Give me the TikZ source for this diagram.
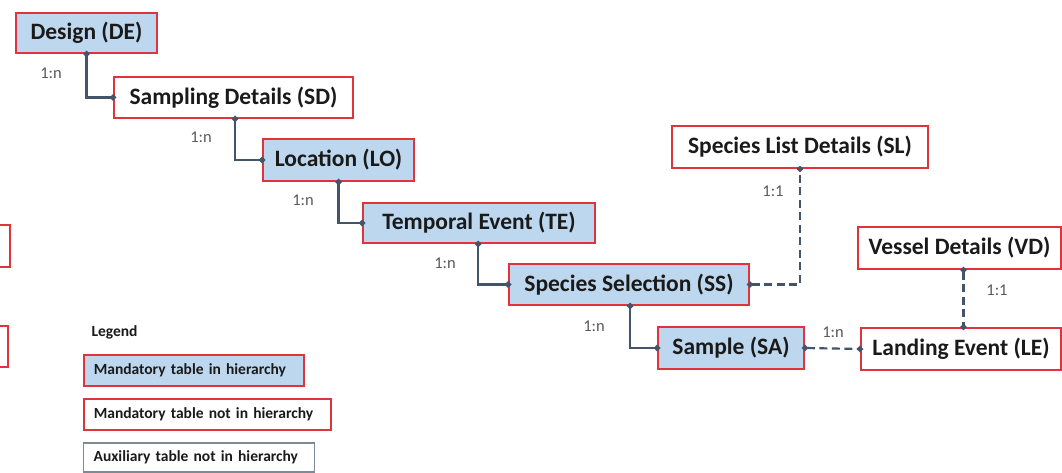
\documentclass[tikz,border=0pt]{standalone}
\usepackage{fontspec}
\setmainfont{Carlito}
\usetikzlibrary{arrows.meta}

\definecolor{boxred}{HTML}{E0333C}
\definecolor{boxblue}{HTML}{BDD7EE}
\definecolor{linkcol}{HTML}{44546A}
\definecolor{labelcol}{HTML}{595959}
\definecolor{auxgray}{HTML}{7F8A96}
\definecolor{txt}{HTML}{1A1A1A}

\tikzset{
  tbl/.style={draw=boxred, line width=2pt, inner sep=0pt, text=txt,
    font=\fontsize{23.5}{26}\selectfont\bfseries},
  hier/.style={tbl, fill=boxblue},
  plain/.style={tbl, fill=white},
  legbox/.style={draw=boxred, line width=1.6pt, inner xsep=10pt, inner ysep=0pt,
    anchor=west, align=left, text=txt, minimum height=31pt,
    font=\fontsize{15.5}{18}\selectfont\bfseries},
  card/.style={text=labelcol, font=\fontsize{16.5}{19}\selectfont},
  link/.style={draw=linkcol, line width=2.4pt,
    {Circle[length=6pt]}-{Circle[length=6pt]},
    shorten <=-3pt, shorten >=-3pt},
  optlink/.style={link, line width=2.2pt, dash pattern=on 8pt off 4.5pt},
}

\begin{document}
\begin{tikzpicture}[x=1pt, y=-1pt]
  \clip (0,0) rectangle (1062,473);
  \fill[white] (0,0) rectangle (1062,473);

  % tables of the hierarchy
  \node[hier,  minimum width=141pt, minimum height=40pt] (de) at (86.5,33)   {Design (DE)};
  \node[plain, minimum width=239pt, minimum height=41pt] (sd) at (233.5,97.5) {Sampling Details (SD)};
  \node[hier,  minimum width=151pt, minimum height=42pt] (lo) at (338.5,160)  {Location (LO)};
  \node[hier,  minimum width=232pt, minimum height=40pt] (te) at (479,223)    {Temporal Event (TE)};
  \node[hier,  minimum width=240pt, minimum height=41pt] (ss) at (629,284.5)  {Species Selection (SS)};
  \node[hier,  minimum width=146pt, minimum height=42pt] (sa) at (731,348)    {Sample (SA)};

  % tables outside the hierarchy
  \node[plain, minimum width=256pt, minimum height=42pt] (sl) at (800,147)    {Species List Details (SL)};
  \node[plain, minimum width=203pt, minimum height=42pt] (vd) at (959.5,248)  {Vessel Details (VD)};
  \node[plain, minimum width=200pt, minimum height=42pt] (le) at (961,349)    {Landing Event (LE)};

  % partly visible tables at the left edge
  \node[plain, minimum width=40pt, minimum height=42pt] (pa) at (-10,246) {};
  \node[plain, minimum width=38pt, minimum height=41pt] (pb) at (-11,346.5) {};

  % hierarchy links
  \draw[link] (de.south) |- (sd.west);
  \draw[link] ([xshift=1.5pt]sd.south) |- (lo.west);
  \draw[link] (lo.south) |- (te.west);
  \draw[link] ([xshift=-1pt]te.south) |- (ss.west);
  \draw[link] ([xshift=1pt]ss.south) |- (sa.west);

  % optional links
  \draw[optlink] (ss.east) -| (sl.south);
  \draw[optlink] (sa.east) -- (le.west);
  \coordinate (vdl) at ([xshift=4pt]vd.south);
  \draw[optlink] (vdl) -- (vdl |- le.north);

  % cardinalities
  \node[card] (c1) at (51,73)   {1:n};
  \node[card] (c2) at (201,137) {1:n};
  \node[card] (c3) at (303,200) {1:n};
  \node[card] (c4) at (445,263) {1:n};
  \node[card] (c5) at (594,326) {1:n};
  \node[card] (c6) at (833,332) {1:n};
  \node[card] (c7) at (773,191) {1:1};
  \node[card] (c8) at (997,290) {1:1};

  % legend
  \node[anchor=west, text=txt, font=\fontsize{15.5}{18}\selectfont\bfseries] (lg) at (88,332) {Legend};
  \node[legbox, fill=boxblue, text width=200pt] (l1) at (83,370.5) {Mandatory table in hierarchy};
  \node[legbox, fill=white, text width=227pt] (l2) at (83,414.5) {Mandatory table not in hierarchy};
  \node[legbox, draw=auxgray, line width=1.3pt, fill=white, text width=211pt, minimum height=29pt] (l3) at (83,457.5) {Auxiliary table not in hierarchy};
\end{tikzpicture}
\end{document}
